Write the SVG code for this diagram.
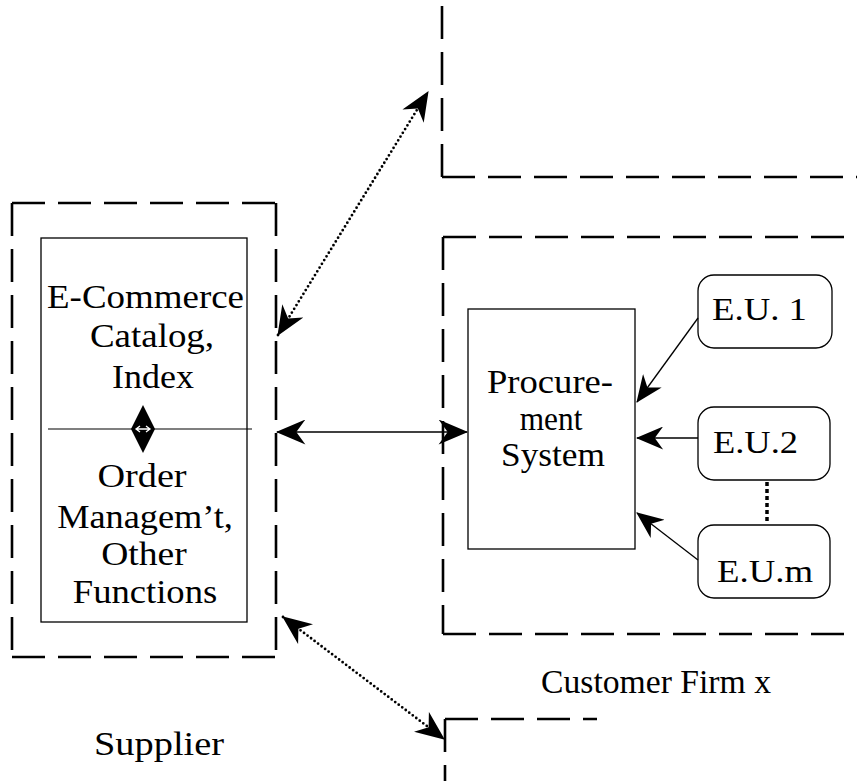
<svg xmlns="http://www.w3.org/2000/svg" width="857" height="781" viewBox="0 0 857 781" font-family="Liberation Serif">
<defs>
  <marker id="ah" viewBox="0 0 26 22" refX="25" refY="11" markerWidth="30" markerHeight="25" markerUnits="userSpaceOnUse" orient="auto-start-reverse">
    <path d="M0,0 L26,11 L0,22 L8,11 Z" fill="#000"/>
  </marker>
  <marker id="ahs" viewBox="0 0 26 22" refX="25" refY="11" markerWidth="28" markerHeight="23" markerUnits="userSpaceOnUse" orient="auto-start-reverse">
    <path d="M0,0 L26,11 L0,22 L8,11 Z" fill="#000"/>
  </marker>
</defs>

<g id="frames" fill="none" stroke="#000" stroke-width="2.6" stroke-dasharray="33 13">
  <path d="M12,203 L276,203"/>
  <path d="M12,203 L12,657"/>
  <path d="M276,203 L276,657"/>
  <path d="M12,657 L276,657"/>
  <path d="M442,177 L442,0"/>
  <path d="M442,177 L857,177"/>
  <path d="M443,237 L857,237"/>
  <path d="M443,237 L443,634"/>
  <path d="M443,634 L857,634"/>
  <path d="M445,719 L597,719"/>
  <path d="M445,719 L445,781"/>
</g>

<g id="supplier-system">
  <rect x="41" y="238" width="206" height="384" fill="#fff" stroke="#000" stroke-width="1.3"/>
  <line x1="48" y1="429" x2="252" y2="429" stroke="#000" stroke-width="1.2"/>
  <g font-family="Liberation Serif" font-size="33" fill="#000" text-anchor="middle">
    <text transform="translate(145.5,308) scale(1.12,1)">E-Commerce</text>
    <text transform="translate(152,347) scale(1.12,1)">Catalog,</text>
    <text transform="translate(153,388) scale(1.09,1)">Index</text>
    <text transform="translate(142,487) scale(1.16,1)">Order</text>
    <text transform="translate(145,528) scale(1.1,1)">Managem&#8217;t,</text>
    <text transform="translate(144,565) scale(1.14,1)">Other</text>
    <text transform="translate(145,603) scale(1.11,1)">Functions</text>
  </g>
</g>

<g id="diamond">
  <polygon points="143,405 155,429 143,453 131,429" fill="#000"/>
  <path d="M137,429 L149,429 M140,426 L136,429 L140,432 M146,426 L150,429 L146,432" fill="none" stroke="#fff" stroke-width="1.3"/>
</g>

<g id="procurement">
  <rect x="468" y="309" width="167" height="240" fill="#fff" stroke="#000" stroke-width="1.3"/>
  <g font-family="Liberation Serif" font-size="33" fill="#000" text-anchor="middle">
    <text transform="translate(550,393) scale(1.11,1)">Procure-</text>
    <text transform="translate(551,430) scale(0.95,1)">ment</text>
    <text transform="translate(553,466) scale(1.07,1)">System</text>
  </g>
</g>

<g id="eu1" font-family="Liberation Serif" font-size="32" text-anchor="middle">
  <rect x="698" y="275" width="134" height="73" rx="16" fill="#fff" stroke="#000" stroke-width="1.3"/>
  <text fill="#000" transform="translate(759.5,320) scale(1.15,1)">E.U. 1</text>
</g>
<g id="eu2" font-family="Liberation Serif" font-size="32" text-anchor="middle">
  <rect x="698" y="407" width="132" height="73" rx="16" fill="#fff" stroke="#000" stroke-width="1.3"/>
  <text fill="#000" transform="translate(755.5,453) scale(1.14,1)">E.U.2</text>
</g>
<g id="eum" font-family="Liberation Serif" font-size="32" text-anchor="middle">
  <rect x="698" y="525" width="132" height="73" rx="16" fill="#fff" stroke="#000" stroke-width="1.3"/>
  <text fill="#000" transform="translate(765,582) scale(1.15,1)">E.U.m</text>
</g>

<g id="labels" font-family="Liberation Serif" font-size="34" fill="#000" text-anchor="middle">
  <text transform="translate(159,755) scale(1.13,1)">Supplier</text>
  <text transform="translate(656,693) scale(0.99,1)">Customer Firm x</text>
</g>

<g id="connectors" fill="none" stroke="#000">
  <line x1="277" y1="432" x2="467" y2="432" stroke-width="1.3" marker-start="url(#ah)" marker-end="url(#ah)"/>
  <g stroke-width="2.8" stroke-linecap="round" stroke-dasharray="0 4.4">
    <line x1="278" y1="335" x2="428" y2="92" marker-start="url(#ah)" marker-end="url(#ah)"/>
    <line x1="283" y1="617" x2="444" y2="739" marker-start="url(#ah)" marker-end="url(#ah)"/>
  </g>
  <g stroke-width="1.3">
    <line x1="698" y1="318" x2="637" y2="402" marker-end="url(#ahs)"/>
    <line x1="698" y1="438" x2="637" y2="438" marker-end="url(#ahs)"/>
    <line x1="698" y1="560" x2="637" y2="513" marker-end="url(#ahs)"/>
  </g>
  <line x1="767" y1="482" x2="767" y2="524" stroke-width="3.5" stroke-dasharray="4 3"/>
</g>
</svg>
